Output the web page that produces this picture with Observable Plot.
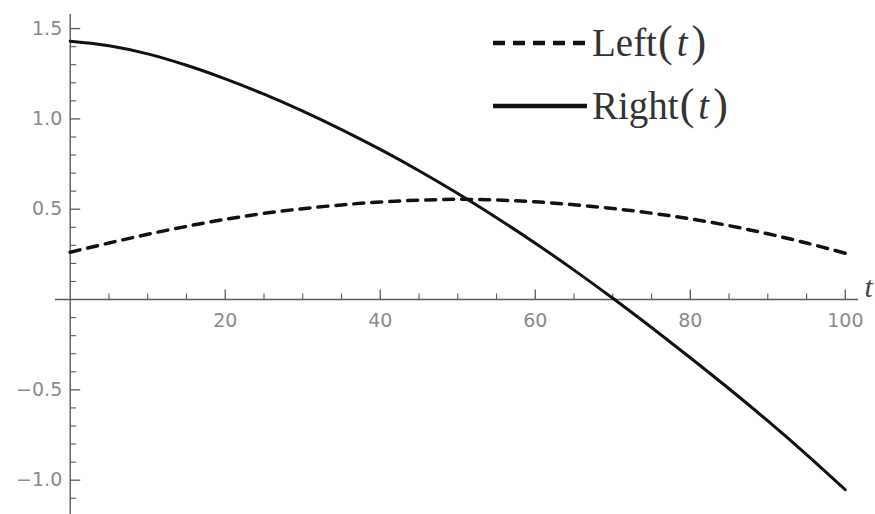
<!DOCTYPE html>
<html>
<head>
<meta charset="utf-8">
<script src="https://cdn.jsdelivr.net/npm/d3@7"></script>
<script src="https://cdn.jsdelivr.net/npm/@observablehq/plot@0.6"></script>
<style>
  html, body { margin: 0; padding: 0; background: #fff; }
  #wrap { position: relative; width: 875px; height: 514px; overflow: hidden; }
  #legend { position: absolute; left: 0; top: 0; pointer-events: none; }
</style>
</head>
<body>
<div id="wrap"></div>
<script>
// ---- data ----
const tValues     = [0, 5, 10, 15, 20, 25, 30, 35, 40, 45, 50, 55, 60, 65, 70, 75, 80, 85, 90, 95, 100];
const leftValues  = [0.262, 0.313, 0.361, 0.405, 0.444, 0.477, 0.503, 0.524, 0.540, 0.550, 0.555, 0.551, 0.541, 0.525, 0.504, 0.478, 0.447, 0.409, 0.364, 0.313, 0.256];
const rightValues = [1.43, 1.405, 1.36, 1.297, 1.222, 1.137, 1.043, 0.941, 0.831, 0.713, 0.587, 0.453, 0.312, 0.163, 0.007, -0.155, -0.322, -0.494, -0.672, -0.858, -1.053];

const xMajorTicks = [20, 40, 60, 80, 100];
const xMinorTicks = [5, 10, 15, 25, 30, 35, 45, 50, 55, 65, 70, 75, 85, 90, 95];
const yMajorTicks = [-1.0, -0.5, 0.5, 1.0, 1.5];
const yMinorTicks = [-1.1, -0.9, -0.8, -0.7, -0.6, -0.4, -0.3, -0.2, -0.1, 0.1, 0.2, 0.3, 0.4, 0.6, 0.7, 0.8, 0.9, 1.1, 1.2, 1.3, 1.4];

const seriesNames = ["Left", "Right"];
const axisVariable = "t";

// table built from the arrays
const leftData  = tValues.map((t, i) => ({t, v: leftValues[i]}));
const rightData = tValues.map((t, i) => ({t, v: rightValues[i]}));

// custom tick symbols (pixel-length strokes pointing into the plot)
const tickUp = { draw(ctx, size) { const l = Math.sqrt(size / Math.PI); ctx.moveTo(0, 0); ctx.lineTo(0, -l); } };
const tickRight = { draw(ctx, size) { const l = Math.sqrt(size / Math.PI); ctx.moveTo(0, 0); ctx.lineTo(l, 0); } };

const axisColor = "#5a5a5a";
const labelColor = "#8a8a8a";
const fmt = d3.format(".1f");

const chart = Plot.plot({
  width: 875,
  height: 514,
  marginLeft: 55,
  marginRight: 17,
  marginTop: 14,
  marginBottom: 0,
  x: { domain: [-1.9, 101.7], axis: null },
  y: { domain: [-1.19, 1.578], axis: null },
  style: { background: "#fff", overflow: "visible" },
  marks: [
    Plot.ruleY([0], { stroke: axisColor, strokeWidth: 1.4 }),
    Plot.ruleX([0], { stroke: axisColor, strokeWidth: 1.4 }),
    Plot.dot(xMajorTicks, { x: d => d, y: () => 0, r: 10, symbol: tickUp, fill: "none", stroke: axisColor, strokeWidth: 1.3 }),
    Plot.dot(xMinorTicks, { x: d => d, y: () => 0, r: 6, symbol: tickUp, fill: "none", stroke: axisColor, strokeWidth: 1.1 }),
    Plot.dot(yMajorTicks, { x: () => 0, y: d => d, r: 10, symbol: tickRight, fill: "none", stroke: axisColor, strokeWidth: 1.3 }),
    Plot.dot(yMinorTicks, { x: () => 0, y: d => d, r: 6, symbol: tickRight, fill: "none", stroke: axisColor, strokeWidth: 1.1 }),
    Plot.text(xMajorTicks, { x: d => d, y: () => 0, text: d => String(d), dy: 21, fill: labelColor, fontSize: 19, fontFamily: "DejaVu Sans", textAnchor: "middle" }),
    Plot.text(yMajorTicks, { x: () => 0, y: d => d, text: d => fmt(d), dx: -8, fill: labelColor, fontSize: 19, fontFamily: "DejaVu Sans", textAnchor: "end" }),
    Plot.text([axisVariable], { x: () => 101.7, y: () => 0, text: d => d, dx: 6, dy: -3, lineAnchor: "bottom", textAnchor: "start", fontSize: 30, fontStyle: "italic", fontFamily: "Liberation Serif", fill: "#444" }),
    Plot.line(leftData, { x: "t", y: "v", curve: "catmull-rom", stroke: "#111", strokeWidth: 3.5, strokeDasharray: "10,8" }),
    Plot.line(rightData, { x: "t", y: "v", curve: "catmull-rom", stroke: "#111", strokeWidth: 3 })
  ]
});

const wrap = document.getElementById("wrap");
wrap.appendChild(chart);

// legend overlay
const ns = "http://www.w3.org/2000/svg";
const leg = document.createElementNS(ns, "svg");
leg.setAttribute("id", "legend");
leg.setAttribute("width", 875);
leg.setAttribute("height", 514);
const items = [
  { name: seriesNames[0], y: 43, dash: "12,8" },
  { name: seriesNames[1], y: 106, dash: null }
];
items.forEach(it => {
  const ln = document.createElementNS(ns, "line");
  ln.setAttribute("x1", 493); ln.setAttribute("x2", 587);
  ln.setAttribute("y1", it.y); ln.setAttribute("y2", it.y);
  ln.setAttribute("stroke", "#111"); ln.setAttribute("stroke-width", 4.5);
  if (it.dash) ln.setAttribute("stroke-dasharray", it.dash);
  leg.appendChild(ln);
  const tx = document.createElementNS(ns, "text");
  tx.setAttribute("x", 592); tx.setAttribute("y", it.y + 13);
  tx.setAttribute("font-family", "Liberation Serif");
  tx.setAttribute("font-size", 39);
  tx.setAttribute("fill", "#333");
  const s1 = document.createElementNS(ns, "tspan"); s1.textContent = it.name; tx.appendChild(s1);
  const p1 = document.createElementNS(ns, "tspan"); p1.textContent = "("; p1.setAttribute("font-size", 44); p1.setAttribute("dx", 1); tx.appendChild(p1);
  const ti = document.createElementNS(ns, "tspan"); ti.textContent = axisVariable; ti.setAttribute("font-style", "italic"); ti.setAttribute("dx", 4); tx.appendChild(ti);
  const p2 = document.createElementNS(ns, "tspan"); p2.textContent = ")"; p2.setAttribute("font-size", 44); p2.setAttribute("dx", 4); tx.appendChild(p2);
  leg.appendChild(tx);
});
wrap.appendChild(leg);
</script>
</body>
</html>
